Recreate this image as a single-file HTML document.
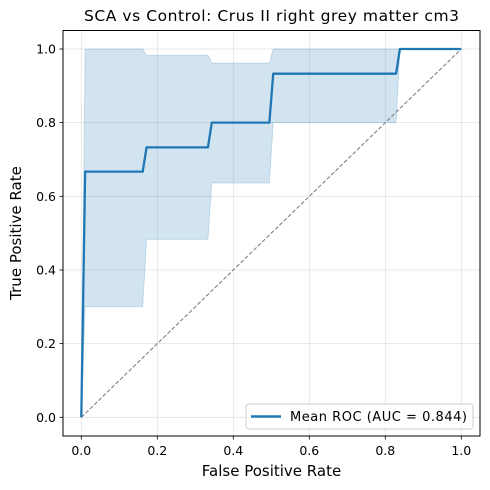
<!DOCTYPE html>
<html><head><meta charset="utf-8"><style>
html,body{margin:0;padding:0;background:#fff}
svg{display:block;font-family:"DejaVu Sans","Liberation Sans",sans-serif}
</style></head><body>
<svg id="chart" width="490" height="490" viewBox="0 0 490 490">
<rect width="490" height="490" fill="#fff"/>
<text x="271.5" y="21" font-size="15.5" text-anchor="middle" textLength="375" fill="#000">SCA vs Control: Crus II right grey matter cm3</text>
<g id="grid"></g>
<g id="band"></g>
<g id="plot"></g>
<rect x="63" y="30.5" width="417" height="405.5" fill="none" stroke="#000" stroke-width="1"/>
<g id="ticks"></g>
<text x="271.5" y="476" font-size="15" text-anchor="middle">False Positive Rate</text>
<text transform="translate(21,233) rotate(-90)" font-size="15" text-anchor="middle">True Positive Rate</text>
<g>
<rect x="246" y="404" width="227" height="25" rx="3" fill="#fff" fill-opacity="0.8" stroke="#ccc"/>
<line x1="251" y1="416.5" x2="281" y2="416.5" stroke="#1f77b4" stroke-width="2.5"/>
<text x="290" y="421" font-size="13" textLength="177">Mean ROC (AUC = 0.844)</text>
</g>
</svg>
<script>
const fpr = [0, 0.0101, 0.1616, 0.1717, 0.3333, 0.3434, 0.4949, 0.5051, 0.8283, 0.8384, 1];
const meanTpr = [0, 0.667, 0.667, 0.733, 0.733, 0.8, 0.8, 0.933, 0.933, 1, 1];
const upperTpr = [0, 1, 1, 0.983, 0.983, 0.962, 0.962, 1, 1, 1, 1];
const lowerTpr = [0, 0.3, 0.3, 0.483, 0.483, 0.636, 0.636, 0.8, 0.8, 1, 1];
const tickLabels = ["0.0", "0.2", "0.4", "0.6", "0.8", "1.0"];
const tickValues = [0, 0.2, 0.4, 0.6, 0.8, 1.0];

const NS = "http://www.w3.org/2000/svg";
const X0 = 81.3, X1 = 461.3, Y0 = 417.3, Y1 = 49;
function sx(v){ return X0 + v * (X1 - X0); }
function sy(v){ return Y0 - v * (Y0 - Y1); }
function mk(tag, attrs, parent){
  const e = document.createElementNS(NS, tag);
  for (const k in attrs) e.setAttribute(k, attrs[k]);
  parent.appendChild(e);
  return e;
}
const grid = document.getElementById('grid');
const ticks = document.getElementById('ticks');
tickValues.forEach((v, i) => {
  const gx = mk('line', {x1: sx(v), x2: sx(v), y1: 30.5, y2: 436, stroke: '#b0b0b0', 'stroke-opacity': 0.35, 'stroke-width': 0.8}, grid);
  
  
  const gy = mk('line', {x1: 63, x2: 480, y1: sy(v), y2: sy(v), stroke: '#b0b0b0', 'stroke-opacity': 0.35, 'stroke-width': 0.8}, grid);
  
  
  const tx = mk('line', {x1: sx(v), x2: sx(v), y1: 436, y2: 439.5, stroke: '#000', 'stroke-width': 0.8}, ticks);
  
  
  const lx = mk('text', {x: sx(v), y: 455, 'font-size': 12.5, 'text-anchor': 'middle'}, ticks);
  lx.textContent = tickLabels[i];
  
  
  const ty = mk('line', {x1: 59.5, x2: 63, y1: sy(v), y2: sy(v), stroke: '#000', 'stroke-width': 0.8}, ticks);
  
  
  const ly = mk('text', {x: 56, y: sy(v) + 4.5, 'font-size': 12.5, 'text-anchor': 'end'}, ticks);
  ly.textContent = tickLabels[i];
  
  
});
let d = '';
fpr.forEach((f, i) => { d += (i ? 'L' : 'M') + sx(f).toFixed(2) + ',' + sy(upperTpr[i]).toFixed(2); });
for (let i = fpr.length - 1; i >= 0; i--) d += 'L' + sx(fpr[i]).toFixed(2) + ',' + sy(lowerTpr[i]).toFixed(2);
d += 'Z';
const band = mk('path', {d: d, fill: '#1f77b4', 'fill-opacity': 0.2, stroke: '#1f77b4', 'stroke-opacity': 0.2, 'stroke-width': 1}, document.getElementById('band'));


const plot = document.getElementById('plot');
const diag = mk('line', {x1: sx(0), y1: sy(0), x2: sx(1), y2: sy(1), stroke: '#808080', 'stroke-width': 1.1, 'stroke-dasharray': '4,2'}, plot);


const pts = fpr.map((f, i) => sx(f).toFixed(2) + ',' + sy(meanTpr[i]).toFixed(2)).join(' ');
const roc = mk('polyline', {points: pts, fill: 'none', stroke: '#1f77b4', 'stroke-width': 2.3, 'stroke-linejoin': 'round'}, plot);


</script>
</body></html>
